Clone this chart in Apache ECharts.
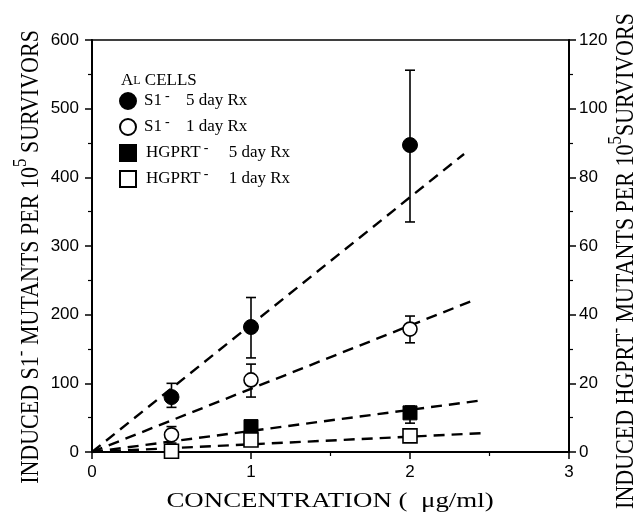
<!DOCTYPE html>
<html>
<head>
<meta charset="utf-8">
<script src="https://cdn.jsdelivr.net/npm/echarts@6/dist/echarts.min.js"></script>
<style>html,body{margin:0;padding:0;background:#fff}#c{width:639px;height:518px}</style>
</head>
<body>
<div id="c"></div>
<script>
// ---- data ----
const xTicks = [0, 1, 2, 3];
const leftTicks = [0, 100, 200, 300, 400, 500, 600];
const rightTicks = [0, 20, 40, 60, 80, 100, 120];

// S1- mutants (left axis)
const s1Day5Conc = [0.5, 1, 2];
const s1Day5 = [80, 182, 447];
const s1Day5Lo = [65, 137, 335];
const s1Day5Hi = [100, 225, 556];

const s1Day1Conc = [0.5, 1, 2];
const s1Day1 = [25, 105, 179];
const s1Day1Lo = [13, 80, 159];
const s1Day1Hi = [37, 128, 198];

// HGPRT- mutants (right axis)
const hgDay5Conc = [1, 2];
const hgDay5 = [7.4, 11.4];
const hgDay5Lo = [null, 8.4];
const hgDay5Hi = [null, 13.4];

const hgDay1Conc = [0.5, 1, 2];
const hgDay1 = [0.2, 3.5, 4.7];

// dashed regression lines: from origin to end point
const fitNames = ['S1_5', 'S1_1', 'HG_5', 'HG_1'];
const fitEndX = [2.34, 2.40, 2.46, 2.46];
const fitEndY = [434, 221, 15.1, 5.5];
const fitAxis = [0, 0, 1, 1];

const legendLabels = {
  S1_5: ['S1', '5 day Rx'],
  S1_1: ['S1', '1 day Rx'],
  HG_5: ['HGPRT', '5 day Rx'],
  HG_1: ['HGPRT', '1 day Rx']
};

// ---- build ----
const zip = (xs, ys) => xs.map((x, i) => [x, ys[i]]);
const errRows = (xs, lo, hi) => xs.map((x, i) => [x, lo[i], hi[i]]).filter(r => r[1] != null);

const SERIF = '"Liberation Serif", "Times New Roman", serif';
const SANS = '"Liberation Sans", Arial, sans-serif';

function errorBar(params, api) {
  const x = api.value(0);
  const p1 = api.coord([x, api.value(1)]);
  const p2 = api.coord([x, api.value(2)]);
  const w = 5;
  const st = { stroke: '#000', lineWidth: 1.6 };
  return {
    type: 'group',
    children: [
      { type: 'line', shape: { x1: p1[0], y1: p1[1], x2: p2[0], y2: p2[1] }, style: st },
      { type: 'line', shape: { x1: p1[0] - w, y1: p1[1], x2: p1[0] + w, y2: p1[1] }, style: st },
      { type: 'line', shape: { x1: p2[0] - w, y1: p2[1], x2: p2[0] + w, y2: p2[1] }, style: st }
    ]
  };
}

const series = [];
fitNames.forEach((n, i) => {
  series.push({
    type: 'line', name: 'fit_' + n, yAxisIndex: fitAxis[i],
    data: [[0, 0], [fitEndX[i], fitEndY[i]]],
    symbol: 'none', silent: true, z: 1,
    lineStyle: { color: '#000', width: 2.4, type: [11, 7], opacity: 1 }
  });
});
series.push({ type: 'custom', name: 'err_S1_5', yAxisIndex: 0, renderItem: errorBar, encode: { x: 0, y: [1, 2] }, data: errRows(s1Day5Conc, s1Day5Lo, s1Day5Hi), z: 2, silent: true });
series.push({ type: 'custom', name: 'err_S1_1', yAxisIndex: 0, renderItem: errorBar, encode: { x: 0, y: [1, 2] }, data: errRows(s1Day1Conc, s1Day1Lo, s1Day1Hi), z: 2, silent: true });
series.push({ type: 'custom', name: 'err_HG_5', yAxisIndex: 1, renderItem: errorBar, encode: { x: 0, y: [1, 2] }, data: errRows(hgDay5Conc, hgDay5Lo, hgDay5Hi), z: 2, silent: true });

series.push({ type: 'scatter', name: 'S1_5', yAxisIndex: 0, symbol: 'circle', symbolSize: 15, z: 4,
  itemStyle: { color: '#000', borderColor: '#000', borderWidth: 1, opacity: 1 }, data: zip(s1Day5Conc, s1Day5) });
series.push({ type: 'scatter', name: 'S1_1', yAxisIndex: 0, symbol: 'circle', symbolSize: 14, z: 4,
  itemStyle: { color: '#fff', borderColor: '#000', borderWidth: 1.6, opacity: 1 }, data: zip(s1Day1Conc, s1Day1) });
series.push({ type: 'scatter', name: 'HG_5', yAxisIndex: 1, symbol: 'rect', symbolSize: 14, z: 3,
  itemStyle: { color: '#000', borderColor: '#000', borderWidth: 1, opacity: 1 }, data: zip(hgDay5Conc, hgDay5) });
series.push({ type: 'scatter', name: 'HG_1', yAxisIndex: 1, symbol: 'rect', symbolSize: 14, z: 4,
  itemStyle: { color: '#fff', borderColor: '#000', borderWidth: 1.6, opacity: 1 }, data: zip(hgDay1Conc, hgDay1) });

const axisCommon = {
  type: 'value',
  axisLine: { show: true, onZero: false, lineStyle: { color: '#000', width: 2 } },
  axisTick: { show: true, inside: false, length: 7, lineStyle: { color: '#000', width: 1.5 } },
  minorTick: { show: true, splitNumber: 2, length: 4, lineStyle: { color: '#000', width: 1.2 } },
  splitLine: { show: false },
  minorSplitLine: { show: false },
  axisLabel: { color: '#000', fontFamily: SANS, fontSize: 17 }
};

const chart = echarts.init(document.getElementById('c'), null, { renderer: 'canvas' });
chart.setOption({
  backgroundColor: '#fff',
  animation: false,
  grid: { left: 92, right: 70, top: 40, bottom: 66, show: true, borderColor: '#000', borderWidth: 1.5, backgroundColor: 'transparent', containLabel: false, outerBoundsMode: 'none' },
  xAxis: Object.assign({}, axisCommon, {
    min: xTicks[0], max: xTicks[xTicks.length - 1], interval: 1,
    axisLabel: Object.assign({}, axisCommon.axisLabel, { margin: 12 })
  }),
  yAxis: [
    Object.assign({}, axisCommon, {
      position: 'left', min: leftTicks[0], max: leftTicks[leftTicks.length - 1], interval: 100,
      axisLabel: Object.assign({}, axisCommon.axisLabel, { margin: 13 })
    }),
    Object.assign({}, axisCommon, {
      position: 'right', min: rightTicks[0], max: rightTicks[rightTicks.length - 1], interval: 20,
      axisLabel: Object.assign({}, axisCommon.axisLabel, { margin: 10 })
    })
  ],
  legend: {
    data: ['S1_5', 'S1_1', 'HG_5', 'HG_1'],
    orient: 'vertical', left: 114, top: 84,
    itemWidth: 16, itemHeight: 16, itemGap: 5,
    selectedMode: false,
    formatter: name => {
      const l = legendLabels[name];
      return l[0] === 'S1'
        ? '{n|' + l[0] + '}{m1|-}{t|' + l[1] + '}'
        : '{n2|' + l[0] + '}{m2|-}{t|' + l[1] + '}';
    },
    textStyle: {
      color: '#000', fontFamily: SERIF, fontSize: 17,
      rich: {
        n: { fontFamily: SERIF, fontSize: 17, color: '#000', padding: [0, 0, 0, 3] },
        n2: { fontFamily: SERIF, fontSize: 17, color: '#000', padding: [0, 0, 0, 5] },
        m1: { fontFamily: SERIF, fontSize: 14, color: '#000', width: 21, padding: [0, 0, 10, 3] },
        m2: { fontFamily: SERIF, fontSize: 14, color: '#000', width: 25, padding: [0, 0, 10, 3] },
        t: { fontFamily: SERIF, fontSize: 17, color: '#000' }
      }
    }
  },
  graphic: [
    { type: 'text', left: 121, top: 72, silent: true,
      style: { text: '{a|A}{b|L}{a| CELLS}', rich: {
        a: { fontFamily: SERIF, fontSize: 17, fill: '#000' },
        b: { fontFamily: SERIF, fontSize: 12, fill: '#000' } } } },
    { type: 'text', x: 330, y: 501, scaleX: 1.28, silent: true,
      style: { text: 'CONCENTRATION (  \u03bcg/ml)', font: '21px ' + SERIF, fill: '#000', align: 'center', verticalAlign: 'middle' } },
    { type: 'text', x: 31, y: 257, rotation: Math.PI / 2, scaleY: 1.15, silent: true,
      style: { text: '{t|INDUCED S1}{m|-}{t| MUTANTS PER 10}{s|5}{t| SURVIVORS}', align: 'center', verticalAlign: 'middle',
        rich: {
          t: { fontFamily: SERIF, fontSize: 22, fill: '#000' },
          m: { fontFamily: SERIF, fontSize: 17, fill: '#000', padding: [0, 0, 18, 0] },
          s: { fontFamily: SERIF, fontSize: 17, fill: '#000', padding: [0, 0, 18, 0] }
        } } },
    { type: 'text', x: 626, y: 261, rotation: Math.PI / 2, scaleY: 1.15, silent: true,
      style: { text: '{t|INDUCED HGPRT}{m|-}{t| MUTANTS PER 10}{s|5}{t|SURVIVORS}', align: 'center', verticalAlign: 'middle',
        rich: {
          t: { fontFamily: SERIF, fontSize: 22, fill: '#000' },
          m: { fontFamily: SERIF, fontSize: 17, fill: '#000', padding: [0, 0, 18, 0] },
          s: { fontFamily: SERIF, fontSize: 17, fill: '#000', padding: [0, 0, 18, 0] }
        } } }
  ],
  series: series
});
</script>
</body>
</html>
